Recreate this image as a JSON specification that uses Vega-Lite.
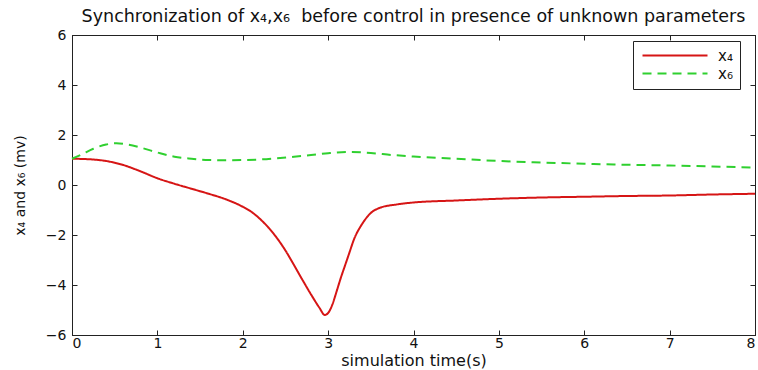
{
  "$schema": "https://vega.github.io/schema/vega-lite/v6.json",
  "autosize": {"type": "none"},
  "width": 683,
  "height": 300,
  "padding": {"left": 72, "top": 35, "right": 3, "bottom": 35},
  "background": "white",
  "title": {
    "text": "Synchronization of x₄,x₆\u00a0 before control in presence of unknown parameters",
    "font": "DejaVu Sans",
    "fontSize": 17.5,
    "fontWeight": "normal",
    "color": "#111111",
    "offset": 3
  },
  "config": {
    "view": {"stroke": "#222222", "strokeWidth": 1},
    "axis": {
      "grid": false,
      "domainColor": "#222222",
      "tickColor": "#222222",
      "labelColor": "#111111",
      "titleColor": "#111111",
      "labelFont": "DejaVu Sans",
      "titleFont": "DejaVu Sans",
      "titleFontWeight": "normal"
    }
  },
  "data": {
    "values": [
      {"t": 0, "v": 1.05, "s": "x₄"},
      {"t": 0.2, "v": 1.03, "s": "x₄"},
      {"t": 0.4, "v": 0.96, "s": "x₄"},
      {"t": 0.6, "v": 0.8, "s": "x₄"},
      {"t": 0.8, "v": 0.55, "s": "x₄"},
      {"t": 1.0, "v": 0.27, "s": "x₄"},
      {"t": 1.2, "v": 0.05, "s": "x₄"},
      {"t": 1.4, "v": -0.15, "s": "x₄"},
      {"t": 1.6, "v": -0.35, "s": "x₄"},
      {"t": 1.8, "v": -0.57, "s": "x₄"},
      {"t": 2.0, "v": -0.87, "s": "x₄"},
      {"t": 2.1, "v": -1.07, "s": "x₄"},
      {"t": 2.2, "v": -1.35, "s": "x₄"},
      {"t": 2.3, "v": -1.7, "s": "x₄"},
      {"t": 2.4, "v": -2.12, "s": "x₄"},
      {"t": 2.5, "v": -2.62, "s": "x₄"},
      {"t": 2.6, "v": -3.2, "s": "x₄"},
      {"t": 2.7, "v": -3.8, "s": "x₄"},
      {"t": 2.8, "v": -4.38, "s": "x₄"},
      {"t": 2.9, "v": -4.92, "s": "x₄"},
      {"t": 2.96, "v": -5.2, "s": "x₄"},
      {"t": 3.0, "v": -5.12, "s": "x₄"},
      {"t": 3.05, "v": -4.78, "s": "x₄"},
      {"t": 3.1, "v": -4.25, "s": "x₄"},
      {"t": 3.15, "v": -3.7, "s": "x₄"},
      {"t": 3.2, "v": -3.2, "s": "x₄"},
      {"t": 3.25, "v": -2.7, "s": "x₄"},
      {"t": 3.3, "v": -2.2, "s": "x₄"},
      {"t": 3.4, "v": -1.55, "s": "x₄"},
      {"t": 3.5, "v": -1.12, "s": "x₄"},
      {"t": 3.6, "v": -0.92, "s": "x₄"},
      {"t": 3.8, "v": -0.78, "s": "x₄"},
      {"t": 4.0, "v": -0.7, "s": "x₄"},
      {"t": 4.5, "v": -0.62, "s": "x₄"},
      {"t": 5.0, "v": -0.55, "s": "x₄"},
      {"t": 5.5, "v": -0.5, "s": "x₄"},
      {"t": 6.0, "v": -0.47, "s": "x₄"},
      {"t": 6.5, "v": -0.44, "s": "x₄"},
      {"t": 7.0, "v": -0.42, "s": "x₄"},
      {"t": 7.5, "v": -0.38, "s": "x₄"},
      {"t": 8.0, "v": -0.35, "s": "x₄"},
      {"t": 0, "v": 1.05, "s": "x₆"},
      {"t": 0.1, "v": 1.2, "s": "x₆"},
      {"t": 0.25, "v": 1.45, "s": "x₆"},
      {"t": 0.4, "v": 1.62, "s": "x₆"},
      {"t": 0.52, "v": 1.67, "s": "x₆"},
      {"t": 0.65, "v": 1.62, "s": "x₆"},
      {"t": 0.8, "v": 1.5, "s": "x₆"},
      {"t": 1.0, "v": 1.3, "s": "x₆"},
      {"t": 1.2, "v": 1.13, "s": "x₆"},
      {"t": 1.4, "v": 1.05, "s": "x₆"},
      {"t": 1.6, "v": 1.0, "s": "x₆"},
      {"t": 1.8, "v": 0.99, "s": "x₆"},
      {"t": 2.0, "v": 1.0, "s": "x₆"},
      {"t": 2.2, "v": 1.02, "s": "x₆"},
      {"t": 2.4, "v": 1.07, "s": "x₆"},
      {"t": 2.6, "v": 1.13, "s": "x₆"},
      {"t": 2.8, "v": 1.2, "s": "x₆"},
      {"t": 3.0, "v": 1.27, "s": "x₆"},
      {"t": 3.25, "v": 1.32, "s": "x₆"},
      {"t": 3.5, "v": 1.28, "s": "x₆"},
      {"t": 3.75, "v": 1.2, "s": "x₆"},
      {"t": 4.0, "v": 1.14, "s": "x₆"},
      {"t": 4.5, "v": 1.05, "s": "x₆"},
      {"t": 5.0, "v": 0.96, "s": "x₆"},
      {"t": 5.5, "v": 0.9, "s": "x₆"},
      {"t": 6.0, "v": 0.85, "s": "x₆"},
      {"t": 6.5, "v": 0.81, "s": "x₆"},
      {"t": 7.0, "v": 0.78, "s": "x₆"},
      {"t": 7.5, "v": 0.74, "s": "x₆"},
      {"t": 8.0, "v": 0.7, "s": "x₆"}
    ]
  },
  "resolve": {"axis": {"x": "independent", "y": "independent"}},
  "layer": [
    {
      "mark": {"type": "line", "strokeWidth": 2, "interpolate": "monotone"},
      "encoding": {
        "x": {
          "field": "t", "type": "quantitative",
          "scale": {"domain": [0, 8], "nice": false, "zero": false},
          "axis": {
            "orient": "bottom",
            "values": [0, 1, 2, 3, 4, 5, 6, 7, 8],
            "tickSize": -5,
            "labelPadding": 6,
            "labelFontSize": 14,
            "title": "simulation time(s)",
            "titleFontSize": 16,
            "titlePadding": 2
          }
        },
        "y": {
          "field": "v", "type": "quantitative",
          "scale": {"domain": [-6, 6], "nice": false, "zero": false},
          "axis": {
            "orient": "left",
            "values": [-6, -4, -2, 0, 2, 4, 6],
            "tickSize": -5,
            "labelPadding": 11,
            "labelFontSize": 14,
            "title": "x₄ and x₆ (mv)",
            "titleFontSize": 14,
            "titlePadding": 18
          }
        },
        "color": {
          "field": "s", "type": "nominal",
          "scale": {"domain": ["x₄", "x₆"], "range": ["#d61515", "#2fd02f"]},
          "legend": {
            "title": null,
            "orient": "none",
            "legendX": 561,
            "legendY": 6,
            "strokeColor": "#222222",
            "fillColor": "white",
            "padding": 7,
            "symbolType": "M-1,0H12",
            "symbolStrokeWidth": 2,
            "symbolSize": 100,
            "labelOffset": 63,
            "labelFont": "DejaVu Sans",
            "labelFontSize": 15,
            "labelColor": "#111111",
            "rowPadding": 2
          }
        },
        "strokeDash": {
          "field": "s", "type": "nominal",
          "scale": {"domain": ["x₄", "x₆"], "range": [[1, 0], [9, 6]]},
          "legend": null
        }
      }
    },
    {
      "mark": {"type": "line", "opacity": 0},
      "encoding": {
        "x": {
          "field": "t", "type": "quantitative",
          "axis": {"orient": "top", "values": [0, 1, 2, 3, 4, 5, 6, 7, 8], "tickSize": -5, "labels": false, "title": null}
        },
        "y": {
          "field": "v", "type": "quantitative",
          "axis": {"orient": "right", "values": [-6, -4, -2, 0, 2, 4, 6], "tickSize": -5, "labels": false, "title": null}
        },
        "detail": {"field": "s", "type": "nominal"}
      }
    }
  ]
}
